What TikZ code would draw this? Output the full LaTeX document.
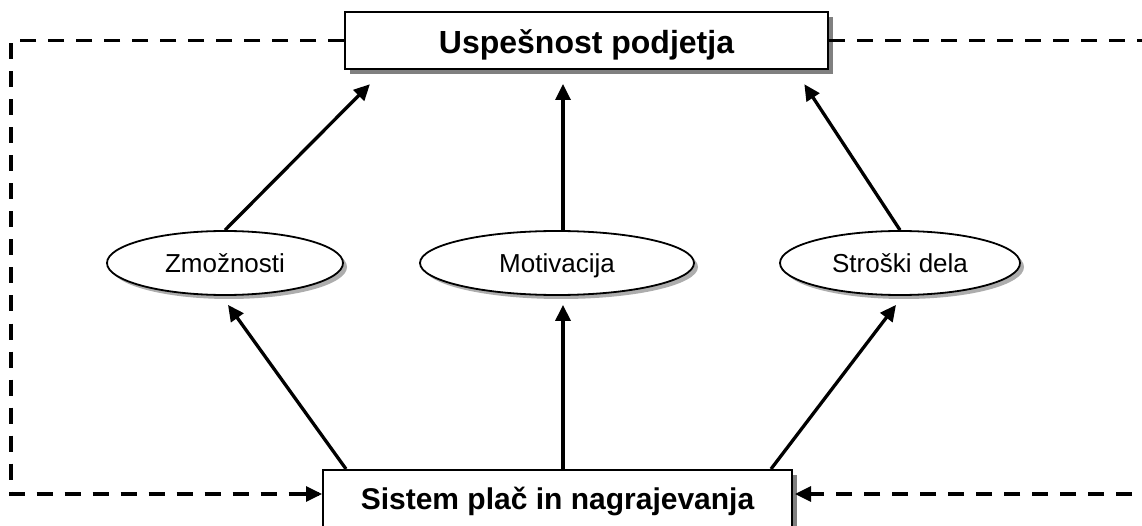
\documentclass[tikz,border=0pt]{standalone}
\usepackage{fontspec}
\setmainfont{Liberation Sans}
\usetikzlibrary{arrows.meta,calc,shapes.geometric,shadows}
\tikzset{
  mainbox/.style={draw=black,line width=2pt,fill=white,rectangle,inner sep=0pt,
    drop shadow={shadow xshift=5pt,shadow yshift=-5pt,fill=black!50,opacity=1}},
  oval/.style={draw=black,line width=1.8pt,fill=white,ellipse,inner sep=0pt,
    minimum height=64pt,font=\fontsize{26}{30}\selectfont,
    text height=19pt,text depth=0pt,
    drop shadow={shadow xshift=4pt,shadow yshift=-4pt,fill=black!40,opacity=0.8}},
  bigtext/.style={font=\fontsize{32}{36}\selectfont\bfseries},
  arr/.style={line width=3.3pt,-{Triangle[length=16pt,width=15pt]}},
  dsh/.style={line width=3.5pt,dash pattern=on 16pt off 12pt}
}
\begin{document}
\begin{tikzpicture}[x=1pt,y=-1pt]
\useasboundingbox (0,0) rectangle (1142,526);
\clip (0,0) rectangle (1142,526);
% boxes
\node[mainbox,minimum width=483pt,minimum height=57pt,bigtext,text height=27pt,text depth=0pt] (top) at (586.5,40.5) {Uspešnost podjetja};
\node[mainbox,minimum width=469pt,minimum height=64pt] (bot) at (557.5,502) {};
\node[bigtext,font=\fontsize{30}{34}\selectfont\bfseries,anchor=base] (bottxt) at ($(bot.north)+(0,40)$) {Sistem plač in nagrajevanja};
% ellipses
\node[oval,minimum width=236pt] (zm) at (225,263) {Zmožnosti};
\node[oval,minimum width=274pt] (mo) at (557,263) {Motivacija};
\node[oval,minimum width=240pt] (st) at (900,263) {Stroški dela};
% upper arrows
\draw[arr,shorten >=20pt] (zm.north) -- ($(top.south west)+(40,0)$);
\draw[arr,shorten >=14pt] ($(mo.north)+(6,0)$) -- ($(mo.north |- top.south)+(6,0)$);
\draw[arr,shorten >=17pt] (st.north) -- ($(top.south east)+(-34,0)$);
% lower arrows
\draw[arr] ($(bot.north west)+(24,0)$) -- ($(zm.south)+(3,9)$);
\draw[arr] ($(mo.south |- bot.north)+(6,0)$) -- ($(mo.south)+(6,9)$);
\draw[arr] ($(bot.north east)+(-22,0)$) -- ($(st.south)+(-4,9)$);
% feedback dashed lines
\coordinate (lft) at (11,40.5);
\coordinate (rgt) at (1160,40.5);
\draw[dsh] (top.west) -- (top.west -| lft) -- ($(lft |- bot.west)+(0,-8)$)
  -- ($(bot.west)+(-3,-8)$);
\draw[line width=3.3pt,-{Triangle[length=16pt,width=15pt]}] ($(bot.west)+(-20,-8)$) -- ($(bot.west)+(0,-8)$);
\draw[dsh] (top.east) -- (top.east -| rgt);
\draw[dsh] ($(rgt |- bot.east)+(0,-8)$) -- ($(bot.east)+(10,-8)$);
\draw[line width=3.3pt,-{Triangle[length=16pt,width=15pt]}] ($(bot.east)+(24,-8)$) -- ($(bot.east)+(2,-8)$);
\end{tikzpicture}
\end{document}
